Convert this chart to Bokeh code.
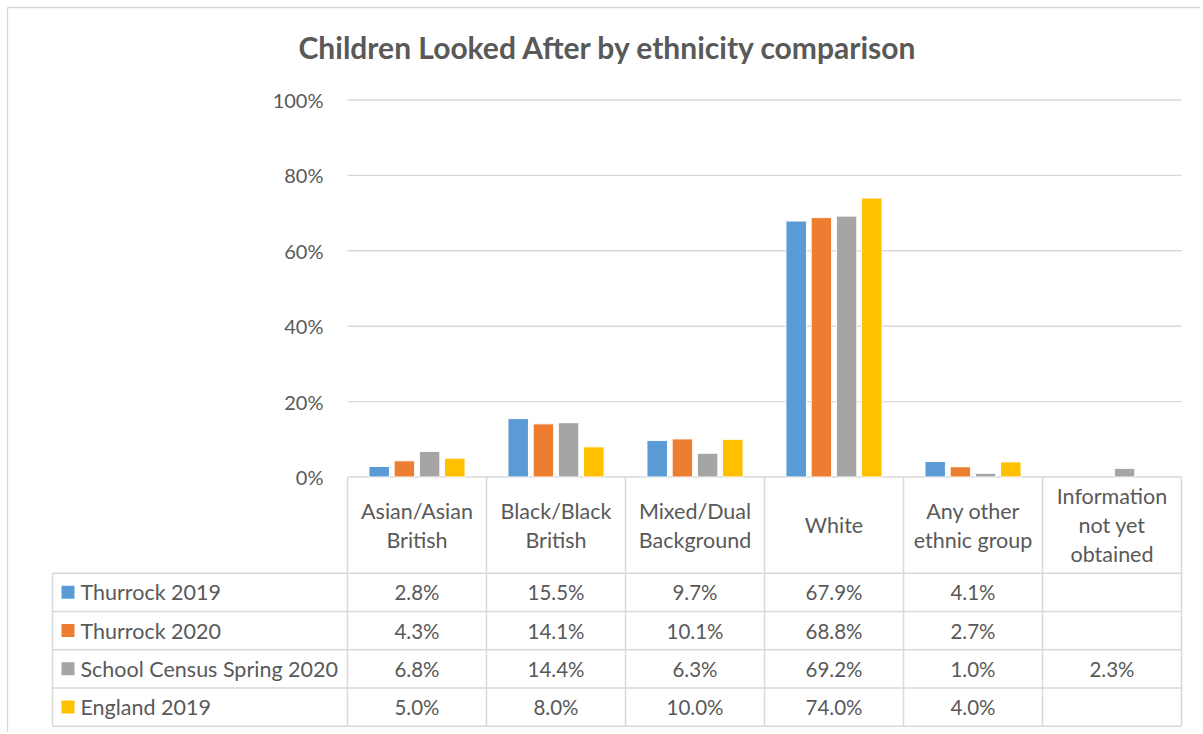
from bokeh.plotting import figure
from bokeh.models import Range1d
from bokeh.core.properties import value
from bokeh.embed import file_html
from bokeh.resources import INLINE

# ---------------- data ----------------
title_text = "Children Looked After by ethnicity comparison"
categories = ["Asian/Asian\nBritish", "Black/Black\nBritish", "Mixed/Dual\nBackground",
              "White", "Any other\nethnic group", "Information\nnot yet\nobtained"]
series_names = ["Thurrock 2019", "Thurrock 2020", "School Census Spring 2020", "England 2019"]
thurrock_2019 = [2.8, 15.5, 9.7, 67.9, 4.1, None]
thurrock_2020 = [4.3, 14.1, 10.1, 68.8, 2.7, None]
school_census_2020 = [6.8, 14.4, 6.3, 69.2, 1.0, 2.3]
england_2019 = [5.0, 8.0, 10.0, 74.0, 4.0, None]
y_ticks = [0, 20, 40, 60, 80, 100]

series_values = [thurrock_2019, thurrock_2020, school_census_2020, england_2019]

# ---------------- style / layout ----------------
COLORS = ["#5B9BD5", "#ED7D31", "#A5A5A5", "#FFC000"]
TEXT = "#595959"
LINE = "#D9D9D9"
FONT = "Lato"

W, H = 1200, 732
PLOT_L = 347          # px of category 0 left edge
CAT_W = 139.0         # px per category
Y0 = 476.5            # px of 0%
PX_PER_PCT = 3.77     # px per percent
HDR_BOTTOM = 572.7
ROW_H = 38.25
LEG_L = 52
N = len(categories)
PLOT_R = PLOT_L + N * CAT_W

p = figure(width=W, height=H, output_backend="svg", toolbar_location=None,
           x_range=Range1d(-PLOT_L / CAT_W, (W - PLOT_L) / CAT_W),
           y_range=Range1d(-(H - Y0) / PX_PER_PCT, Y0 / PX_PER_PCT),
           min_border=0, x_axis_type=None, y_axis_type=None)
p.extra_x_ranges = {"px": Range1d(0, W)}
p.extra_y_ranges = {"px": Range1d(H, 0)}
p.xgrid.visible = False
p.ygrid.visible = False
p.outline_line_color = None
p.background_fill_color = "white"
p.border_fill_color = "white"

# outer chart border (left & top visible in view)
p.segment(x0=[7, 7], y0=[7, 7], x1=[7, W], y1=[H, 7],
          x_range_name="px", y_range_name="px", line_color=LINE, line_width=1.3)

# gridlines
p.segment(x0=[0] * len(y_ticks), x1=[N] * len(y_ticks), y0=y_ticks, y1=y_ticks,
          line_color=LINE, line_width=1.4)

# y tick labels
p.text(x=[PLOT_L - 24] * len(y_ticks), y=y_ticks, text=[f"{t}%" for t in y_ticks],
       x_range_name="px", text_align="right", text_baseline="middle",
       text_font=value(FONT), text_font_size=value("20px"), text_color=TEXT)

# bars
step = 25.2 / CAT_W
bw = 20.5 / CAT_W
ns = len(series_values)
for k, vals in enumerate(series_values):
    xs, tops = [], []
    for i, v in enumerate(vals):
        if v is None:
            continue
        xs.append(i + 0.5 + (k - (ns - 1) / 2) * step)
        tops.append(v)
    p.vbar(x=xs, top=tops, bottom=0, width=bw, fill_color=COLORS[k],
           line_color="white", line_width=1)

# title
p.text(x=[608], y=[46], text=[title_text], x_range_name="px", y_range_name="px",
       text_align="center", text_baseline="middle", text_font=value(FONT),
       text_font_size=value("30px"), text_font_style="bold", text_color=TEXT)

# ---------------- data table ----------------
row_lines = [HDR_BOTTOM + r * ROW_H for r in range(len(series_names) + 1)]
p.segment(x0=[LEG_L] * len(row_lines), x1=[PLOT_R] * len(row_lines),
          y0=row_lines, y1=row_lines, x_range_name="px", y_range_name="px",
          line_color=LINE, line_width=1.5)
col_x = [PLOT_L + i * CAT_W for i in range(N + 1)]
p.segment(x0=col_x, x1=col_x, y0=[Y0] * len(col_x), y1=[row_lines[-1]] * len(col_x),
          x_range_name="px", y_range_name="px", line_color=LINE, line_width=1.5)
p.segment(x0=[LEG_L], x1=[LEG_L], y0=[HDR_BOTTOM], y1=[row_lines[-1]],
          x_range_name="px", y_range_name="px", line_color=LINE, line_width=1.5)

# header labels
hx, hy, ht = [], [], []
hdr_c = (Y0 + HDR_BOTTOM) / 2
LH = 29
for i, cat in enumerate(categories):
    lines = cat.split("\n")
    n = len(lines)
    for j, ln in enumerate(lines):
        hx.append(PLOT_L + (i + 0.5) * CAT_W)
        hy.append(hdr_c + (j - (n - 1) / 2) * LH)
        ht.append(ln)
p.text(x=hx, y=hy, text=ht, x_range_name="px", y_range_name="px",
       text_align="center", text_baseline="middle", text_font=value(FONT),
       text_font_size=value("21.5px"), text_color=TEXT)

# legend keys + names
row_c = [HDR_BOTTOM + (r + 0.5) * ROW_H for r in range(len(series_names))]
p.rect(x=[67.5] * len(series_names), y=row_c, width=13, height=13,
       x_range_name="px", y_range_name="px", fill_color=COLORS, line_color=None)
p.text(x=[80] * len(series_names), y=row_c, text=series_names,
       x_range_name="px", y_range_name="px", text_align="left", text_baseline="middle",
       text_font=value(FONT), text_font_size=value("21.5px"), text_color=TEXT)

# cell values
vx, vy, vt = [], [], []
for r, vals in enumerate(series_values):
    for i, v in enumerate(vals):
        if v is None:
            continue
        vx.append(PLOT_L + (i + 0.5) * CAT_W)
        vy.append(row_c[r])
        vt.append(f"{v:.1f}%")
p.text(x=vx, y=vy, text=vt, x_range_name="px", y_range_name="px",
       text_align="center", text_baseline="middle", text_font=value(FONT),
       text_font_size=value("20.5px"), text_color=TEXT)

open("out.html", "w").write(file_html(p, INLINE))
